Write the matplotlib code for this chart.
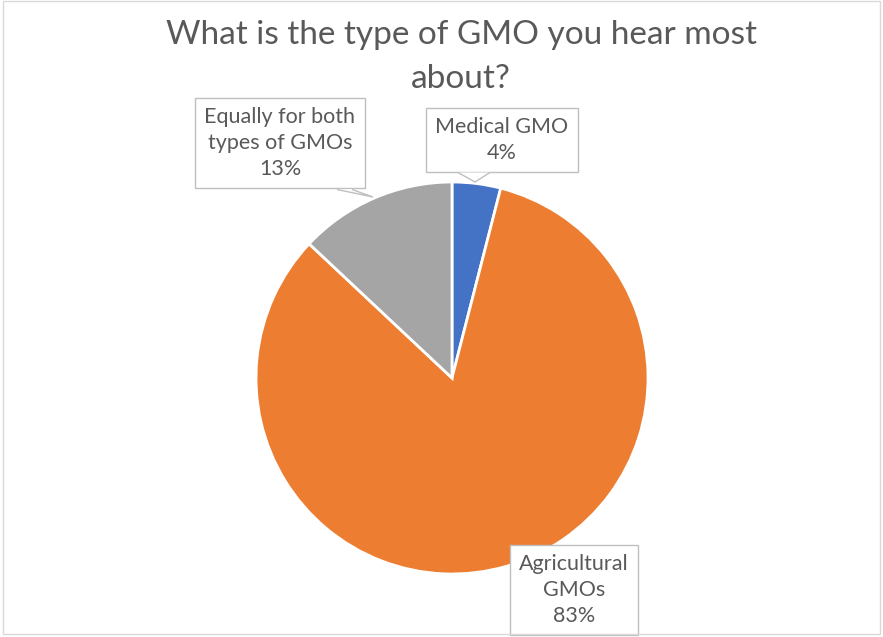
import matplotlib.pyplot as plt
from matplotlib.patches import Polygon, Rectangle

labels = ['Medical GMO', 'Agricultural\nGMOs', 'Equally for both\ntypes of GMOs']
shares = [4, 83, 13]
colors = ['#4472C4', '#ED7D31', '#A5A5A5']

W, H = 883, 637
cx, cy, r = 452, 378, 196

plt.rcParams['font.family'] = ['Lato', 'DejaVu Sans']
fig = plt.figure(figsize=(W / 100, H / 100), dpi=100)
fig.patches.append(Rectangle((3 / W, 3 / H), (W - 6) / W, (H - 4) / H, transform=fig.transFigure,
                             fill=False, edgecolor='#D9D9D9', linewidth=1))

ax = fig.add_axes([(cx - r) / W, (H - cy - r) / H, 2 * r / W, 2 * r / H])
ax.pie(shares, colors=colors, startangle=90, counterclock=False,
       wedgeprops=dict(edgecolor='white', linewidth=2))
ax.set_xlim(-1, 1)
ax.set_ylim(-1, 1)

fig.text(461 / W, 1 - 57 / H, 'What is the type of GMO you hear most\nabout?', ha='center', va='center',
         fontsize=24, color='#595959', linespacing=1.6)

box = dict(boxstyle='square,pad=0.42', facecolor='white', edgecolor='#BFBFBF', linewidth=1)
txt = dict(ha='center', va='center', fontsize=15.5, color='#595959', linespacing=1.4, clip_on=False)


def px(x, y):
    return (x - cx) / r, (cy - y) / r


for lab, pct, pos in zip(labels, shares, [(502, 140), (574, 590), (280, 143)]):
    ax.text(*px(*pos), f'{lab}\n{pct}%', bbox=box, zorder=5, **txt)

# callout pointers drawn over the label boxes' bottom edges
ax.add_patch(Polygon([px(458, 172.5), px(475, 182), px(490, 172.5)], closed=False,
                     facecolor='white', edgecolor='#BFBFBF', linewidth=1, clip_on=False, zorder=6))
ax.add_patch(Polygon([px(337, 189.5), px(373, 197), px(352, 189.5)], closed=False,
                     facecolor='white', edgecolor='#BFBFBF', linewidth=1, clip_on=False, zorder=6))

fig.savefig('out.png', dpi=100)
